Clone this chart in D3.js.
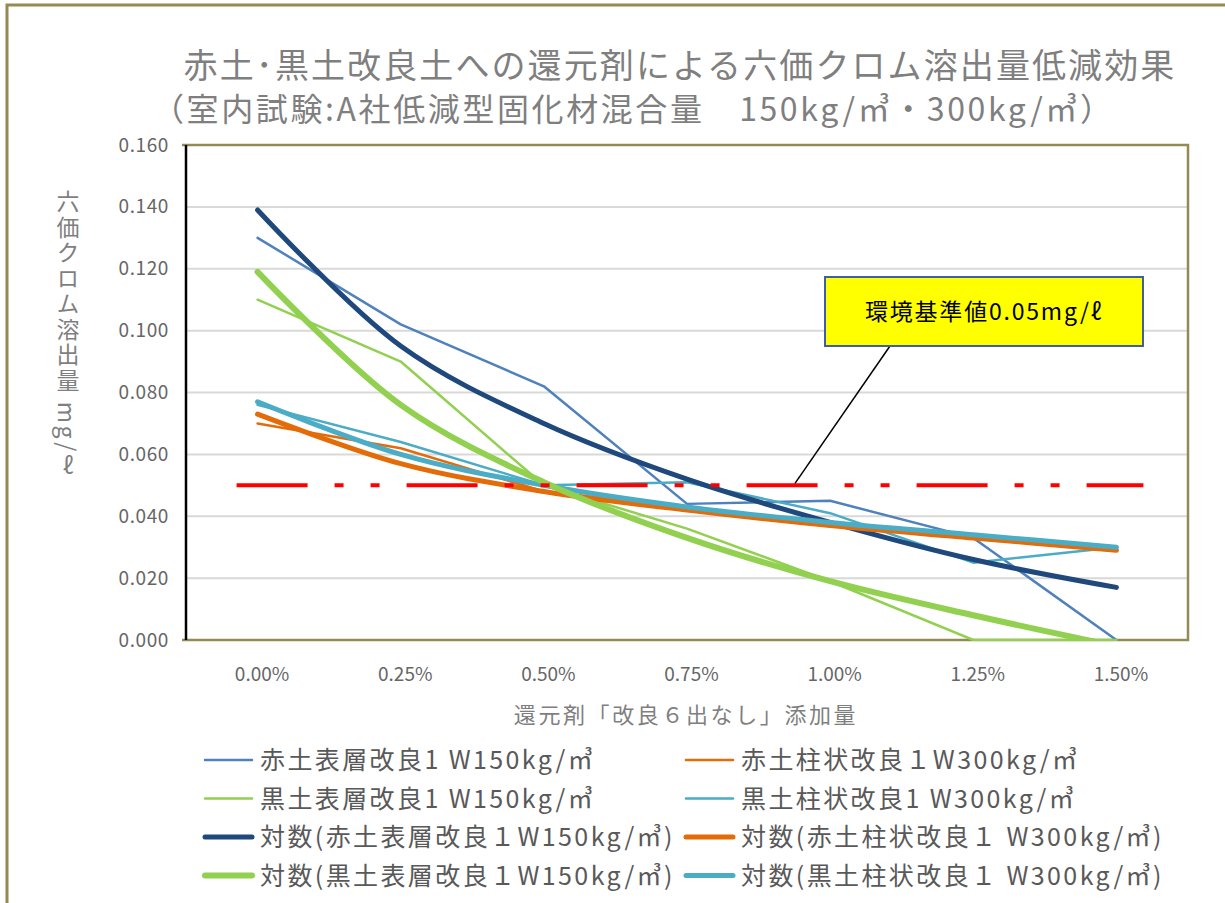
<!DOCTYPE html>
<html>
<head>
<meta charset="utf-8">
<script src="https://cdn.jsdelivr.net/npm/d3@7"></script>
<style>
  body { margin: 0; background: #fff; }
  svg { display: block; }
  text { font-family: "Noto Sans CJK JP", "Noto Sans", sans-serif; }
</style>
</head>
<body>
<svg id="chart" width="1225" height="903"></svg>
<script>
// categories (reductant dosage)
var cats = ["0.00%", "0.25%", "0.50%", "0.75%", "1.00%", "1.25%", "1.50%"];

// measured values, mg/l
var akaSurface = [0.130, 0.102, 0.082, 0.044, 0.045, 0.033, 0.000];
var kuroSurface = [0.110, 0.090, 0.050, 0.036, 0.019, 0.000, 0.000];
var akaColumn = [0.070, 0.062, 0.048, 0.043, 0.037, 0.033, 0.030];
var kuroColumn = [0.076, 0.064, 0.050, 0.051, 0.041, 0.025, 0.030];

// log trend lines, read at each category
var akaSurfaceLog = [0.139, 0.095, 0.070, 0.052, 0.038, 0.026, 0.017];
var kuroSurfaceLog = [0.119, 0.076, 0.051, 0.033, 0.019, 0.008, -0.002];
var akaColumnLog = [0.073, 0.057, 0.048, 0.042, 0.037, 0.033, 0.029];
var kuroColumnLog = [0.077, 0.060, 0.050, 0.043, 0.038, 0.034, 0.030];

var yTicks = [0, 0.02, 0.04, 0.06, 0.08, 0.10, 0.12, 0.14, 0.16];
var limitValue = 0.05;

var legendNames = [
  "赤土表層改良1 W150kg/㎥", "赤土柱状改良１W300kg/㎥",
  "黒土表層改良1 W150kg/㎥", "黒土柱状改良1 W300kg/㎥",
  "対数(赤土表層改良１W150kg/㎥)", "対数(赤土柱状改良１ W300kg/㎥)",
  "対数(黒土表層改良１W150kg/㎥)", "対数(黒土柱状改良１ W300kg/㎥)"
];

window.onload = function() {

  var svg = d3.select("#chart");

  // plot area
  var plot = {left: 186, top: 145, right: 1188, bottom: 640};

  var x = d3.scalePoint().domain(cats).range([plot.left, plot.right]).padding(0.5);
  var y = d3.scaleLinear().domain([0, 0.16]).range([plot.bottom, plot.top]);

  // outer frame
  svg.append("rect")
    .attr("x", 7).attr("y", 5).attr("width", 1240).attr("height", 920)
    .attr("fill", "none").attr("stroke", "#948a54").attr("stroke-width", 3);

  // titles
  svg.append("text")
    .attr("x", 680).attr("y", 78)
    .attr("text-anchor", "middle")
    .attr("font-size", 34).attr("letter-spacing", 2.1)
    .attr("fill", "#7f7f7f")
    .text("赤土･黒土改良土への還元剤による六価クロム溶出量低減効果");

  svg.append("text")
    .attr("x", 152).attr("y", 121)
    .attr("font-size", 32).attr("letter-spacing", 2.6)
    .attr("fill", "#7f7f7f")
    .text("（室内試験:A社低減型固化材混合量　150kg/㎥・300kg/㎥）");

  // gridlines
  svg.append("g")
    .selectAll("line")
    .data(yTicks.filter(function(d) { return d > 0 && d < 0.16; }))
    .enter().append("line")
    .attr("x1", plot.left).attr("x2", plot.right)
    .attr("y1", function(d) { return y(d); })
    .attr("y2", function(d) { return y(d); })
    .attr("stroke", "#d9d9d9").attr("stroke-width", 2);

  // plot border (olive) and left axis (black)
  svg.append("path")
    .attr("d", "M" + (plot.left - 4) + "," + plot.top + "H" + plot.right + "V" + plot.bottom + "H" + (plot.left - 4))
    .attr("fill", "none").attr("stroke", "#948a54").attr("stroke-width", 2.5);

  svg.append("line")
    .attr("x1", plot.left).attr("x2", plot.left)
    .attr("y1", plot.top).attr("y2", plot.bottom)
    .attr("stroke", "#000").attr("stroke-width", 2.5);

  // y axis labels
  var yAxis = d3.axisLeft(y).tickValues(yTicks).tickFormat(d3.format(".3f")).tickSize(0).tickPadding(17);
  var gy = svg.append("g").attr("transform", "translate(" + plot.left + ",0)").call(yAxis);
  gy.select(".domain").remove();
  gy.selectAll("text")
    .attr("font-family", "'Noto Sans', sans-serif")
    .attr("font-size", 19).attr("letter-spacing", 0.6)
    .attr("fill", "#666");

  // x axis labels
  var xAxis = d3.axisBottom(x).tickSize(0).tickPadding(28);
  var gx = svg.append("g").attr("transform", "translate(4," + plot.bottom + ")").call(xAxis);
  gx.select(".domain").remove();
  gx.selectAll("text")
    .attr("font-family", "'Liberation Sans Narrow', 'Noto Sans', sans-serif")
    .attr("font-size", 19)
    .attr("fill", "#666");

  // axis titles
  svg.append("text")
    .attr("x", 686).attr("y", 723)
    .attr("text-anchor", "middle")
    .attr("font-size", 22).attr("letter-spacing", 2.6)
    .attr("fill", "#7f7f7f")
    .text("還元剤「改良６出なし」添加量");

  svg.append("text")
    .attr("x", 68).attr("y", 190)
    .style("writing-mode", "vertical-rl")
    .style("text-orientation", "mixed")
    .attr("font-size", 23).attr("letter-spacing", 2.5)
    .attr("fill", "#7f7f7f")
    .text("六価クロム溶出量 mg/ℓ");

  // clip to plot area
  svg.append("clipPath").attr("id", "clip")
    .append("rect")
    .attr("x", plot.left).attr("y", plot.top - 5)
    .attr("width", plot.right - plot.left).attr("height", plot.bottom - plot.top + 6);

  var series = [
    {values: akaSurface, color: "#4f81bd", width: 2.5, curve: d3.curveLinear},
    {values: akaColumn, color: "#e36c09", width: 2.5, curve: d3.curveLinear},
    {values: kuroSurface, color: "#92d050", width: 2.5, curve: d3.curveLinear},
    {values: kuroColumn, color: "#4bacc6", width: 2.5, curve: d3.curveLinear},
    {values: akaSurfaceLog, color: "#1f497d", width: 5, curve: d3.curveCatmullRom},
    {values: akaColumnLog, color: "#e36c09", width: 5, curve: d3.curveCatmullRom},
    {values: kuroColumnLog, color: "#4bacc6", width: 5, curve: d3.curveCatmullRom},
    {values: kuroSurfaceLog, color: "#92d050", width: 6, curve: d3.curveCatmullRom}
  ];

  var lines = svg.append("g").attr("clip-path", "url(#clip)");
  series.forEach(function(s) {
    var line = d3.line()
      .x(function(d, i) { return x(cats[i]); })
      .y(function(d) { return y(d); })
      .curve(s.curve);
    lines.append("path")
      .datum(s.values)
      .attr("d", line)
      .attr("fill", "none")
      .attr("stroke", s.color)
      .attr("stroke-width", s.width)
      .attr("stroke-linecap", "round")
      .attr("stroke-linejoin", "round");
  });

  // environmental standard line
  svg.append("line")
    .attr("x1", x(cats[0]) - 21).attr("x2", x(cats[cats.length - 1]) + 27)
    .attr("y1", y(limitValue)).attr("y2", y(limitValue))
    .attr("stroke", "#ff0000").attr("stroke-width", 4)
    .attr("stroke-dasharray", "71 27 9 27 9 27");

  // callout
  svg.append("line")
    .attr("x1", 890).attr("y1", 346)
    .attr("x2", 795).attr("y2", y(limitValue) - 2)
    .attr("stroke", "#000").attr("stroke-width", 1.5);

  svg.append("rect")
    .attr("x", 825).attr("y", 277).attr("width", 318).attr("height", 69)
    .attr("fill", "#ffff00").attr("stroke", "#3f5f9f").attr("stroke-width", 2);

  svg.append("text")
    .attr("x", 984).attr("y", 320)
    .attr("text-anchor", "middle")
    .attr("font-size", 23).attr("letter-spacing", 1.8)
    .attr("fill", "#000")
    .text("環境基準値0.05mg/ℓ");

  // legend
  var legendStyles = [series[0], series[1], series[2], series[3], series[4], series[5], series[7], series[6]];
  var legend = svg.append("g");
  var item = legend.selectAll("g")
    .data(legendNames)
    .enter().append("g")
    .attr("transform", function(d, i) {
      return "translate(" + (i % 2 === 0 ? 205 : 686) + "," + (760 + Math.floor(i / 2) * 38.5) + ")";
    });

  item.append("line")
    .attr("x1", 0).attr("x2", 47)
    .attr("stroke", function(d, i) { return legendStyles[i].color; })
    .attr("stroke-width", function(d, i) { return legendStyles[i].width; })
    .attr("stroke-linecap", "round");

  item.append("text")
    .attr("x", 55).attr("dy", "0.36em")
    .attr("font-size", 25).attr("letter-spacing", 2.4)
    .attr("fill", "#595959")
    .text(function(d) { return d; });
};
</script>
</body>
</html>
